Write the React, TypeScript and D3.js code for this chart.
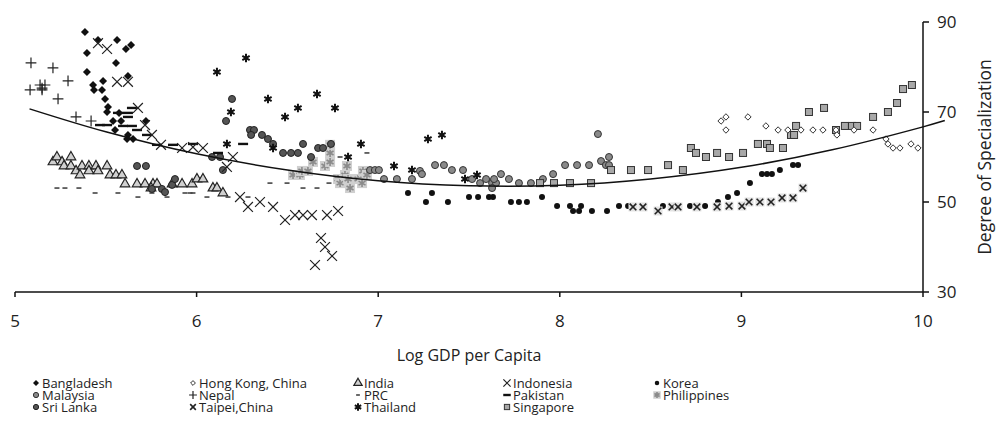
import React from 'react';
import * as d3 from 'd3';

// axis ticks
const xTicks = [5, 6, 7, 8, 9, 10];
const yTicks = [30, 50, 70, 90];

// fitted curve
const trendX = [5.08, 5.5, 6, 6.5, 7, 7.5, 8, 8.5, 9, 9.5, 10, 10.12];
const trendY = [70.7, 65.6, 60.7, 57.1, 54.7, 53.6, 53.7, 55.1, 57.7, 61.6, 66.7, 68.1];

// [log gdp per capita, degree of specialization]
const bangladesh = [[5.385,87.8],[5.457,86.0],[5.562,86.0],[5.639,84.9],[5.611,84.0],[5.396,83.1],[5.556,80.9],[5.396,78.9],[5.622,78.0],[5.485,76.9],[5.43,76.0],[5.435,74.9],[5.479,74.9],[5.496,72.9],[5.512,71.1],[5.507,70.0],[5.54,68.0],[5.584,68.0],[5.573,69.8],[5.721,68.0],[5.551,66.0],[5.622,64.9],[5.617,64.0],[5.65,64.0]];
const hongKong = [[8.888,68.0],[8.915,68.9],[8.915,66.0],[9.036,68.9],[9.135,66.9],[9.202,66.0],[9.256,66.0],[9.328,66.0],[9.394,66.0],[9.449,66.0],[9.521,66.0],[9.526,64.9],[9.62,66.0],[9.725,66.0],[9.796,64.0],[9.807,62.9],[9.835,62.0],[9.873,62.0],[9.934,62.9],[9.972,62.0]];
const india = [[5.209,58.9],[5.231,60.0],[5.259,58.9],[5.308,60.0],[5.27,58.0],[5.308,58.0],[5.336,56.9],[5.358,56.0],[5.369,58.0],[5.407,58.0],[5.407,56.9],[5.446,58.0],[5.457,56.9],[5.507,58.0],[5.523,56.0],[5.556,56.0],[5.589,56.0],[5.606,54.0],[5.672,54.0],[5.716,54.0],[5.76,54.0],[5.782,54.0],[5.749,53.1],[5.865,54.0],[5.92,54.0],[5.975,54.0],[6.002,55.1],[6.035,55.1],[6.09,53.1],[6.112,53.1],[6.145,52.0]];
const indonesia = [[5.457,85.3],[5.507,84.0],[5.562,76.7],[5.622,76.7],[5.677,70.9],[5.716,67.1],[5.754,64.9],[5.804,62.7],[5.92,62.0],[5.98,62.2],[6.035,62.0],[6.2,60.0],[6.167,57.8],[6.239,51.1],[6.283,48.9],[6.349,50.0],[6.421,48.9],[6.487,46.0],[6.542,47.1],[6.586,47.1],[6.635,47.1],[6.718,47.1],[6.779,48.0],[6.685,42.0],[6.707,40.0],[6.746,38.0],[6.652,36.0]];
const korea = [[7.164,52.0],[7.263,50.0],[7.296,52.0],[7.384,50.0],[7.5,51.1],[7.55,51.1],[7.61,51.1],[7.632,51.1],[7.731,50.0],[7.775,50.0],[7.819,50.0],[7.902,51.1],[7.985,49.1],[8.056,49.1],[8.073,48.0],[8.106,48.0],[8.117,49.1],[8.177,48.0],[8.26,48.0],[8.326,49.1],[8.376,49.1],[8.568,49.1],[8.717,49.1],[8.8,49.1],[8.871,50.0],[8.926,51.1],[8.976,52.0],[9.047,54.2],[9.113,56.2],[9.141,56.2],[9.168,56.2],[9.212,57.1],[9.284,58.2],[9.312,58.2]];
const malaysia = [[6.955,57.1],[6.982,57.1],[7.004,57.1],[7.032,55.1],[7.103,55.1],[7.186,55.1],[7.23,56.9],[7.241,56.2],[7.313,58.2],[7.362,58.2],[7.406,57.1],[7.467,57.1],[7.517,55.1],[7.561,54.2],[7.594,55.1],[7.627,54.2],[7.649,54.2],[7.627,53.1],[7.638,55.1],[7.676,56.2],[7.72,55.1],[7.775,54.2],[7.841,54.2],[7.907,55.1],[7.963,56.2],[8.029,58.2],[8.095,58.2],[8.161,58.2],[8.21,65.1],[8.227,59.1],[8.254,58.2],[8.271,58.2],[8.271,60.0]];
const nepal = [[5.088,80.9],[5.209,79.8],[5.292,76.9],[5.138,76.0],[5.165,76.0],[5.149,75.3],[5.083,74.9],[5.149,74.9],[5.237,72.9],[5.336,68.9],[5.419,68.0]];
const prc = [[5.231,53.1],[5.275,53.1],[5.352,53.1],[5.441,52.0],[5.567,52.0],[5.677,51.1],[5.754,52.0],[5.837,51.1],[5.936,52.0],[5.964,52.0],[5.98,52.0],[6.057,51.1],[6.173,51.1],[6.283,51.1],[6.404,54.2],[6.498,54.2],[6.586,53.1],[6.663,53.1],[6.729,54.2],[6.79,60.0],[6.938,60.9]];
const pakistan = [[5.468,67.1],[5.507,67.1],[5.567,69.8],[5.622,69.8],[5.644,70.9],[5.622,68.9],[5.595,66.9],[5.644,66.9],[5.672,66.0],[5.727,64.9],[5.782,62.7],[5.87,62.7],[5.98,62.9],[6.118,60.9],[6.256,62.9]];
const philippines = [[6.531,56.0],[6.569,56.0],[6.58,56.9],[6.613,56.9],[6.641,58.9],[6.707,58.0],[6.735,58.9],[6.735,60.9],[6.735,62.7],[6.779,55.1],[6.79,54.2],[6.817,56.0],[6.828,58.0],[6.834,55.1],[6.845,53.1],[6.889,55.1],[6.911,54.2],[6.916,56.9],[6.938,56.0]];
const sriLanka = [[5.672,58.0],[5.721,58.0],[5.754,52.9],[5.809,52.9],[5.826,52.2],[5.865,53.8],[5.881,55.1],[6.085,60.0],[6.129,60.0],[6.145,57.1],[6.162,68.0],[6.195,72.9],[6.294,66.0],[6.316,66.0],[6.3,64.9],[6.36,64.9],[6.393,64.0],[6.421,62.9],[6.476,60.9],[6.52,60.9],[6.558,60.9],[6.586,62.9],[6.63,60.0],[6.669,62.0],[6.696,62.0],[6.74,62.9]];
const taipei = [[8.403,48.9],[8.458,48.9],[8.541,48.0],[8.618,48.9],[8.651,48.9],[8.755,48.9],[8.866,48.9],[8.932,49.1],[9.003,49.1],[9.042,50.0],[9.102,50.0],[9.163,50.0],[9.224,50.9],[9.284,50.9],[9.339,53.1]];
const thailand = [[6.112,78.9],[6.272,82.0],[6.189,70.0],[6.167,62.9],[6.393,72.9],[6.558,70.9],[6.663,74.0],[6.762,70.9],[6.487,68.9],[6.905,62.9],[6.421,62.0],[6.834,60.0],[7.274,64.0],[7.351,64.9],[7.087,58.0],[7.186,57.1],[7.478,55.1],[7.544,56.0]];
const singapore = [[7.891,54.2],[7.968,54.2],[8.056,54.2],[8.172,54.2],[8.282,57.1],[8.392,57.1],[8.486,57.1],[8.596,58.2],[8.678,57.1],[8.722,62.0],[8.75,60.9],[8.805,60.0],[8.866,60.9],[8.932,60.0],[9.009,60.9],[9.091,62.9],[9.141,62.9],[9.157,62.0],[9.229,62.0],[9.273,64.9],[9.29,64.9],[9.301,66.9],[9.372,70.0],[9.455,70.9],[9.521,66.0],[9.57,66.9],[9.609,66.9],[9.637,66.9],[9.725,68.9],[9.807,70.0],[9.857,72.0],[9.89,75.1],[9.939,76.0]];

const W = 996;
const H = 443;
const FONT = "'Open Sans', sans-serif";

const x = d3.scaleLinear().domain([5, 10]).range([15, 923]);
const y = d3.scaleLinear().domain([30, 90]).range([292, 22]);

const sym = (type: any, size: number) => d3.symbol().type(type).size(size)() as string;
const diamond = (r: number) => `M0,${-r}L${r},0L0,${r}L${-r},0Z`;

// marker painters, keyed by series
function Marker({ kind, small }: { kind: string; small?: boolean }) {
  const k = small ? 0.75 : 1;
  const s = small ? 0.55 : 1; // stroke symbols shrink more in the legend
  switch (kind) {
    case 'bangladesh':
      return <path d={diamond(4 * k)} fill="#111" />;
    case 'hongKong':
      return <path d={diamond(3.2 * k)} fill="#fff" stroke="#333" strokeWidth={1} />;
    case 'india':
      return <path d={sym(d3.symbolTriangle, 40 * k)} fill="#d0d0d0" stroke="#222" strokeWidth={1.2} />;
    case 'indonesia':
      return <path d={sym(d3.symbolTimes, 65 * s)} fill="none" stroke="#222" strokeWidth={1.2} />;
    case 'korea':
      return <circle r={3 * k} fill="#111" />;
    case 'malaysia':
      return <circle r={3.5 * k} fill="#8a8a8a" stroke="#333" strokeWidth={1} />;
    case 'nepal':
      return <path d={sym(d3.symbolPlus, 40 * s)} fill="none" stroke="#222" strokeWidth={1.2} />;
    case 'prc':
      return <line x1={-2.5 * k} x2={2.5 * k} stroke="#444" strokeWidth={1.6} />;
    case 'pakistan':
      return <line x1={-5 * k} x2={5 * k} stroke="#111" strokeWidth={2.4} />;
    case 'philippines':
      return (
        <g>
          <rect x={-5 * k} y={-5 * k} width={10 * k} height={10 * k} fill="#cfcfcf" />
          <path d={sym(d3.symbolAsterisk, 45 * s)} fill="none" stroke="#8a8a8a" strokeWidth={1.6} />
        </g>
      );
    case 'sriLanka':
      return <circle r={3.5 * k} fill="#555" stroke="#222" strokeWidth={1} />;
    case 'taipei':
      return (
        <g>
          {!small && <rect x={-4.5} y={-4.5} width={9} height={9} fill="#e2e2e2" />}
          <path d={sym(d3.symbolTimes, 30 * k)} fill="none" stroke="#222" strokeWidth={1.6} />
        </g>
      );
    case 'thailand':
      return <path d={sym(d3.symbolAsterisk, 50 * k)} fill="none" stroke="#111" strokeWidth={2} />;
    case 'singapore':
      return <rect x={-3.5 * k} y={-3.5 * k} width={7 * k} height={7 * k} fill="#a8a8a8" stroke="#333" strokeWidth={1} />;
    default:
      return null;
  }
}

const series: { key: string; data: number[][] }[] = [
  { key: 'india', data: india },
  { key: 'prc', data: prc },
  { key: 'philippines', data: philippines },
  { key: 'sriLanka', data: sriLanka },
  { key: 'malaysia', data: malaysia },
  { key: 'korea', data: korea },
  { key: 'taipei', data: taipei },
  { key: 'singapore', data: singapore },
  { key: 'hongKong', data: hongKong },
  { key: 'nepal', data: nepal },
  { key: 'bangladesh', data: bangladesh },
  { key: 'pakistan', data: pakistan },
  { key: 'indonesia', data: indonesia },
  { key: 'thailand', data: thailand },
];

// legend order, row by row
const legendRows = [
  [['bangladesh', 'Bangladesh'], ['hongKong', 'Hong Kong, China'], ['india', 'India'], ['indonesia', 'Indonesia'], ['korea', 'Korea']],
  [['malaysia', 'Malaysia'], ['nepal', 'Nepal'], ['prc', 'PRC'], ['pakistan', 'Pakistan'], ['philippines', 'Philippines']],
  [['sriLanka', 'Sri Lanka'], ['taipei', 'Taipei,China'], ['thailand', 'Thailand'], ['singapore', 'Singapore']],
];
const legendCols = [36, 193, 358, 507, 657];

export default function App() {
  const line = d3.line<number>()
    .x((d) => x(d))
    .y((_, i) => y(trendY[i]))
    .curve(d3.curveCatmullRom);

  return (
    <svg width={W} height={H} style={{ position: 'absolute', left: 0, top: 0, background: '#fff' }} fontFamily={FONT}>
      {/* points */}
      {series.map((s) => (
        <g key={s.key}>
          {s.data.map((d, i) => (
            <g key={i} transform={`translate(${x(d[0])},${y(d[1])})`}>
              <Marker kind={s.key} />
            </g>
          ))}
        </g>
      ))}

      {/* trend */}
      <path d={line(trendX) as string} fill="none" stroke="#111" strokeWidth={1.5} />

      {/* x axis */}
      <line x1={x(5)} x2={x(10)} y1={y(30)} y2={y(30)} stroke="#111" strokeWidth={1.5} />
      {xTicks.map((t) => (
        <g key={t} transform={`translate(${x(t)},${y(30)})`}>
          <line y1={0} y2={5} stroke="#111" strokeWidth={1.5} />
          <text y={35} textAnchor="middle" fontSize={17} fill="#222">{t}</text>
        </g>
      ))}
      <text x={(x(5) + x(10)) / 2} y={361} textAnchor="middle" fontSize={16} fill="#222">Log GDP per Capita</text>

      {/* y axis on the right */}
      <line x1={x(10)} x2={x(10)} y1={y(30)} y2={y(90)} stroke="#111" strokeWidth={1.5} />
      {yTicks.map((t) => (
        <g key={t} transform={`translate(${x(10)},${y(t)})`}>
          <line x1={0} x2={6} stroke="#111" strokeWidth={1.5} />
          <text x={14} dy="0.35em" fontSize={17} fill="#222">{t}</text>
        </g>
      ))}
      <text transform={`translate(991,${(y(30) + y(90)) / 2}) rotate(-90)`} textAnchor="middle" fontSize={17.5} fill="#222">Degree of Specialization</text>

      {/* legend */}
      {legendRows.map((row, r) =>
        row.map(([key, label], c) => (
          <g key={key} transform={`translate(${legendCols[c]},${383 + r * 12})`}>
            <Marker kind={key} small />
            <text x={6} dy="0.36em" fontSize={13} fill="#222">{label}</text>
          </g>
        ))
      )}
    </svg>
  );
}
